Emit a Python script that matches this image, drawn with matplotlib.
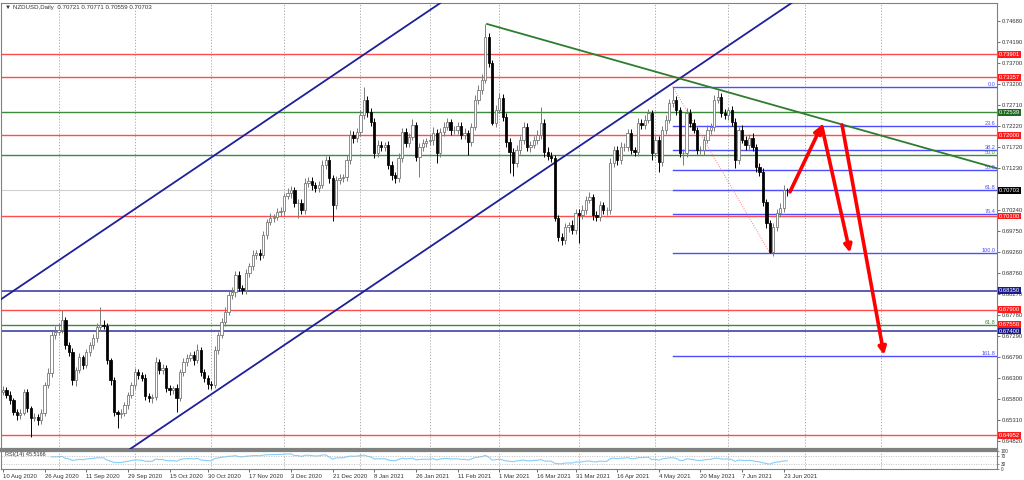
import matplotlib
matplotlib.use("Agg")
import matplotlib.pyplot as plt
import numpy as np
import pandas as pd

plt.rcParams["font.family"] = ["Liberation Sans", "DejaVu Sans"]

# ---------------- data ----------------
header_text = "\u25BC NZDUSD,Daily  0.70721 0.70771 0.70559 0.70703"
rsi_text = "RSI(14) 45.5166"

first_open = 0.6598
closes = [
    0.6602, 0.6590, 0.6578, 0.6550, 0.6543, 0.6548, 0.6597, 0.6560, 0.6536, 0.6538,
    0.6531, 0.6548, 0.6614, 0.6642, 0.6731, 0.6738, 0.6743, 0.6766, 0.6707, 0.6691,
    0.6625, 0.6649, 0.6679, 0.6660, 0.6691, 0.6707, 0.6724, 0.6750, 0.6754, 0.6752,
    0.6672, 0.6625, 0.6550, 0.6545, 0.6548, 0.6567, 0.6590, 0.6614, 0.6644, 0.6637,
    0.6630, 0.6588, 0.6583, 0.6585, 0.6668, 0.6649, 0.6653, 0.6606, 0.6602, 0.6606,
    0.6583, 0.6644, 0.6668, 0.6677, 0.6684, 0.6672, 0.6696, 0.6644, 0.6630, 0.6616,
    0.6614, 0.6696, 0.6731, 0.6761, 0.6785, 0.6825, 0.6832, 0.6872, 0.6841, 0.6837,
    0.6876, 0.6893, 0.6919, 0.6923, 0.6919, 0.6966, 0.6996, 0.7006, 0.7008, 0.7020,
    0.7022, 0.7057, 0.7064, 0.7071, 0.7041, 0.7041, 0.7024, 0.7088, 0.7092, 0.7083,
    0.7076, 0.7083, 0.7130, 0.7142, 0.7099, 0.7036, 0.7095, 0.7099, 0.7102, 0.7142,
    0.7200, 0.7193, 0.7207, 0.7247, 0.7283, 0.7254, 0.7231, 0.7158, 0.7177, 0.7172,
    0.7177, 0.7130, 0.7107, 0.7099, 0.7146, 0.7207, 0.7182, 0.7196, 0.7224, 0.7149,
    0.7172, 0.7182, 0.7186, 0.7189, 0.7205, 0.7158, 0.7207, 0.7219, 0.7231, 0.7212,
    0.7212, 0.7222, 0.7200, 0.7205, 0.7184, 0.7219, 0.7283, 0.7306, 0.7330, 0.7430,
    0.7369, 0.7229, 0.7259, 0.7287, 0.7243, 0.7184, 0.7161, 0.7135, 0.7165, 0.7189,
    0.7219, 0.7172, 0.7177, 0.7189, 0.7200, 0.7229, 0.7161, 0.7151, 0.7146, 0.7006,
    0.6961, 0.6954, 0.6984, 0.6989, 0.6977, 0.7017, 0.7013, 0.7024, 0.7048, 0.7055,
    0.7013, 0.7008, 0.7036, 0.7024, 0.7024, 0.7135, 0.7165, 0.7142, 0.7172, 0.7172,
    0.7205, 0.7165, 0.7161, 0.7229, 0.7224, 0.7236, 0.7252, 0.7158, 0.7189, 0.7137,
    0.7212, 0.7236, 0.7276, 0.7283, 0.7259, 0.7158, 0.7158, 0.7252, 0.7229, 0.7212,
    0.7165, 0.7165, 0.7189, 0.7212, 0.7219, 0.7283, 0.7290, 0.7252, 0.7247, 0.7259,
    0.7231, 0.7142, 0.7212, 0.7189, 0.7177, 0.7193, 0.7172, 0.7125, 0.7113, 0.7043,
    0.6994, 0.6926, 0.6984, 0.7017, 0.7029, 0.70721, 0.70703,
]
hi_ext_pips = [
    8, 6, 9, 5, 7, 10, 8, 6, 5, 9,
    7, 8, 6, 12, 9, 15, 15, 23, 6, 8,
    10, 7, 9, 6, 8, 7, 10, 9, 42, 12,
    8, 6, 7, 5, 9, 6, 8, 7, 10, 8,
    6, 9, 7, 8, 12, 6, 10, 7, 8, 6,
    9, 7, 8, 10, 6, 9, 14, 7, 8, 6,
    7, 9, 8, 10, 12, 9, 11, 8, 10, 7,
    9, 8, 11, 7, 9, 10, 8, 12, 7, 9,
    10, 8, 13, 9, 7, 10, 8, 12, 9, 10,
    8, 10, 11, 9, 8, 7, 10, 9, 8, 12,
    11, 9, 10, 12, 30, 8, 10, 9, 12, 10,
    8, 9, 10, 7, 12, 11, 9, 10, 14, 8,
    9, 10, 8, 12, 14, 9, 10, 11, 9, 8,
    10, 9, 8, 11, 7, 10, 12, 11, 14, 30,
    10, 8, 12, 11, 9, 8, 10, 9, 11, 10,
    12, 9, 10, 8, 11, 37, 9, 12, 10, 8,
    7, 9, 10, 8, 11, 9, 10, 12, 9, 11,
    8, 10, 9, 7, 8, 12, 10, 9, 11, 10,
    9, 10, 8, 12, 10, 11, 9, 8, 10, 9,
    10, 12, 9, 31, 10, 8, 9, 12, 10, 9,
    8, 10, 9, 11, 10, 12, 16, 9, 10, 8,
    9, 10, 8, 11, 9, 10, 12, 8, 9, 10,
    8, 7, 10, 9, 11, 12, 5,
]
lo_ext_pips = [
    9, 7, 10, 8, 12, 9, 6, 10, 45, 8,
    12, 9, 7, 8, 10, 9, 8, 7, 10, 9,
    11, 14, 8, 10, 7, 9, 8, 10, 9, 8,
    10, 12, 9, 33, 10, 8, 9, 7, 10, 9,
    8, 10, 9, 12, 7, 9, 10, 8, 11, 9,
    33, 8, 10, 9, 7, 11, 8, 10, 9, 12,
    10, 8, 9, 7, 10, 8, 9, 11, 8, 10,
    9, 8, 10, 9, 11, 8, 9, 7, 10, 8,
    9, 10, 8, 11, 9, 36, 10, 8, 9, 11,
    10, 9, 8, 10, 12, 37, 9, 10, 8, 9,
    10, 11, 9, 8, 10, 12, 9, 11, 10, 8,
    9, 10, 12, 11, 9, 8, 10, 9, 8, 10,
    47, 9, 10, 8, 11, 23, 9, 10, 8, 11,
    9, 10, 8, 9, 31, 10, 8, 9, 10, 8,
    9, 5, 10, 8, 9, 11, 50, 30, 10, 9,
    10, 9, 11, 8, 10, 9, 12, 10, 9, 8,
    10, 13, 9, 11, 8, 10, 66, 9, 10, 8,
    11, 9, 10, 8, 12, 9, 10, 11, 9, 10,
    8, 10, 9, 11, 10, 9, 8, 16, 10, 23,
    9, 10, 8, 9, 11, 10, 28, 9, 10, 8,
    10, 9, 11, 8, 10, 9, 8, 10, 9, 11,
    9, 19, 10, 8, 11, 9, 10, 12, 9, 10,
    11, 3, 9, 10, 8, 9, 14,
]

start_date = "2020-08-10"
holidays = ["2020-12-25", "2021-01-01"]
date_labels = ["10 Aug 2020", "26 Aug 2020", "11 Sep 2020", "29 Sep 2020", "15 Oct 2020",
               "30 Oct 2020", "17 Nov 2020", "3 Dec 2020", "21 Dec 2020", "8 Jan 2021",
               "26 Jan 2021", "11 Feb 2021", "1 Mar 2021", "16 Mar 2021", "31 Mar 2021",
               "16 Apr 2021", "4 May 2021", "20 May 2021", "7 Jun 2021", "23 Jun 2021"]

price_ticks = [0.74680, 0.74190, 0.73700, 0.73200, 0.72710, 0.72220, 0.71720, 0.71230,
               0.70240, 0.69750, 0.69260, 0.68760, 0.68270, 0.67780, 0.67290,
               0.66790, 0.66300, 0.65800, 0.65310, 0.64820]

red_levels = [0.73901, 0.73357, 0.72000, 0.70100, 0.67900, 0.64952]
green_levels = [0.72539, 0.71530, 0.67550]
navy_levels = [0.68350, 0.67400]
current_price = 0.70703

# labelled boxes on the price scale: (value, colour)
boxed_labels = [(0.73901, "#ff1a1a"), (0.73357, "#ff1a1a"), (0.72539, "#1f6b1f"),
                (0.72000, "#ff1a1a"), (0.70703, "#000000"), (0.70100, "#ff1a1a"),
                (0.68350, "#1a1a8c"), (0.67900, "#ff1a1a"), (0.67550, "#ff1a1a"),
                (0.67400, "#1a1a8c"), (0.64952, "#ff1a1a")]

# second fibonacci (green) labels
green_fib_labels = [(0.71530, "50.0"), (0.67550, "61.8")]

# fibonacci retracement (blue)
fib_high = 0.7314
fib_low = 0.6923
fib_start_bar = 193
fib_end_bar = 221
fib_levels = [0.0, 23.6, 38.2, 50.0, 61.8, 76.4, 100.0, 161.8]

# channel lines (two anchor points each: bar, price)
channel_lower = [(36.6, 0.6463), (186.6, 0.7287)]
channel_upper = [(-0.9, 0.6813), (126.9, 0.7515)]
# falling green trend line
trend_green = [(139.5, 0.7461), (286.5, 0.7122)]
# red projection arrows (tail, tip)
arrows = [((226.8, 0.7067), (236.0, 0.7224)),
          ((236.0, 0.7220), (244.1, 0.6924)),
          ((241.8, 0.7224), (253.9, 0.6684))]

# ---------------- derived ----------------
n = len(closes)
opens = [first_open] + closes[:-1]
highs = [max(o, c) + h * 1e-4 for o, c, h in zip(opens, closes, hi_ext_pips)]
lows = [min(o, c) - l * 1e-4 for o, c, l in zip(opens, closes, lo_ext_pips)]
x = np.arange(n)

bdays = pd.bdate_range(start_date, periods=n + 40)
bdays = bdays[~bdays.isin(pd.to_datetime(holidays))]
label_pos = [int(np.searchsorted(bdays, pd.to_datetime(s, format="%d %b %Y"))) for s in date_labels]
month_starts = [i for i in range(1, len(bdays)) if bdays[i].month != bdays[i - 1].month]

c_arr = np.array(closes)
d = np.diff(c_arr)
gain = np.clip(d, 0, None)
loss = np.clip(-d, 0, None)
period = 14
ag = np.full(n, np.nan)
al = np.full(n, np.nan)
ag[period] = gain[:period].mean()
al[period] = loss[:period].mean()
for i in range(period + 1, n):
    ag[i] = (ag[i - 1] * (period - 1) + gain[i - 1]) / period
    al[i] = (al[i - 1] * (period - 1) + loss[i - 1]) / period
rsi = 100 - 100 / (1 + ag / al)

# ---------------- figure ----------------
W, H = 1024, 480
fig = plt.figure(figsize=(W / 100, H / 100), dpi=100)
fig.patch.set_facecolor("white")

left_px, right_px = 1, 997
main_top, main_bot = 3, 449
rsi_top, rsi_bot = 451, 469
ax = fig.add_axes([left_px / W, 1 - main_bot / H, (right_px - left_px) / W, (main_bot - main_top) / H])
axr = fig.add_axes([left_px / W, 1 - rsi_bot / H, (right_px - left_px) / W, (rsi_bot - rsi_top) / H], sharex=ax)

px_per_bar = 3.47
x0 = -(3 - left_px) / px_per_bar
x1 = x0 + (right_px - left_px) / px_per_bar
ax.set_xlim(x0, x1)
ax.set_ylim(0.64632, 0.75103)

# grid (month starts)
for m in month_starts:
    if x0 < m < x1:
        ax.axvline(m, color="#a0a0a0", lw=0.6, ls=(0, (1.5, 2)), zorder=0)
        axr.axvline(m, color="#a0a0a0", lw=0.6, ls=(0, (1.5, 2)), zorder=0)

# horizontal levels
ax.axhline(current_price, color="#d0d0d0", lw=0.8, zorder=1)
for p in red_levels:
    ax.axhline(p, color="#ff4d4d", lw=1.0, zorder=2)
for p in green_levels:
    ax.axhline(p, color="#3d8b3d", lw=1.0, zorder=2)
for p in navy_levels:
    ax.axhline(p, color="#3030a0", lw=1.1, zorder=2)

# fibonacci
fib_prices = [fib_high - (fib_high - fib_low) * lv / 100 for lv in fib_levels]
for lv, p in zip(fib_levels, fib_prices):
    ax.plot([fib_start_bar, x1], [p, p], color="#4d4dff", lw=1.0, zorder=2)
    ax.text(x1 - 0.4, p, f"{lv:.1f}", color="#4d4dff", fontsize=4.0, ha="right", va="bottom", zorder=6)
for p, t in green_fib_labels:
    ax.text(x1 - 0.4, p, t, color="#3d8b3d", fontsize=4.0, ha="right", va="bottom", zorder=6)
ax.plot([fib_start_bar, fib_end_bar], [fib_high, fib_low], color="#ff8080", lw=0.7, ls=(0, (1, 1.5)), zorder=2)

# channels and trend line
for line in (channel_lower, channel_upper):
    ax.axline(line[0], line[1], color="#1f1f99", lw=1.3, zorder=3)
ax.plot([trend_green[0][0], trend_green[1][0]], [trend_green[0][1], trend_green[1][1]],
        color="#2e7d2e", lw=1.3, zorder=3)

# candles
for i in range(n):
    o, c, h, l = opens[i], closes[i], highs[i], lows[i]
    up = c >= o
    wick_col = "#7a7a7a" if up else "#000000"
    ax.plot([i, i], [l, h], color=wick_col, lw=0.7, zorder=4, solid_capstyle="butt")
    body = max(abs(c - o), 0.00004)
    ax.bar(i, body, bottom=min(o, c), width=0.66,
           color="white" if up else "black", edgecolor="#6e6e6e" if up else "black",
           linewidth=0.55, zorder=5)

# arrows
for tail, tip in arrows:
    ax.annotate("", xy=tip, xytext=tail,
                arrowprops=dict(arrowstyle="-|>", color="#ff0000", lw=2.6,
                                mutation_scale=11, shrinkA=0, shrinkB=0),
                zorder=7)

# price scale
ax.yaxis.tick_right()
ax.set_yticks(price_ticks)
ax.set_yticklabels([f"{p:.5f}" for p in price_ticks])
ax.tick_params(axis="y", labelsize=4.2, length=2, width=0.5, pad=1.2, colors="#333333")
ax.tick_params(axis="x", bottom=False, labelbottom=False)
for p, col in boxed_labels:
    ax.annotate(f"{p:.5f}", xy=(1, p), xycoords=("axes fraction", "data"),
                xytext=(1.2, 0), textcoords="offset points", ha="left", va="center",
                fontsize=4.2, color="white", annotation_clip=False, zorder=10,
                bbox=dict(boxstyle="square,pad=0.15", fc=col, ec="none"))

ax.text(0.004, 0.995, header_text, transform=ax.transAxes, fontsize=4.4,
        ha="left", va="top", color="#333333")

for sp in ax.spines.values():
    sp.set_color("#808080")
    sp.set_linewidth(0.8)
ax.spines["bottom"].set_linewidth(1.6)

# RSI panel
axr.set_ylim(0, 100)
axr.plot(x, rsi, color="#87cefa", lw=0.8)
axr.axhline(70, color="#b0b0b0", lw=0.5, ls=(0, (1.5, 2)))
axr.axhline(30, color="#b0b0b0", lw=0.5, ls=(0, (1.5, 2)))
axr.yaxis.tick_right()
axr.set_yticks([100, 70, 30, 0])
axr.set_yticklabels(["100", "70", "30", "0"])
axr.tick_params(axis="y", labelsize=3.4, length=1.5, width=0.4, pad=1, colors="#333333")
axr.text(0.004, 0.93, rsi_text, transform=axr.transAxes, fontsize=4.0, ha="left", va="top",
         color="#333333")
axr.set_xticks(label_pos)
axr.set_xticklabels(date_labels, ha="left")
axr.tick_params(axis="x", labelsize=4.3, length=2.5, width=0.5, pad=1.0, colors="#333333")
for sp in axr.spines.values():
    sp.set_color("#808080")
    sp.set_linewidth(0.8)
axr.spines["top"].set_linewidth(1.6)

fig.savefig("out.png", dpi=100, facecolor="white")
